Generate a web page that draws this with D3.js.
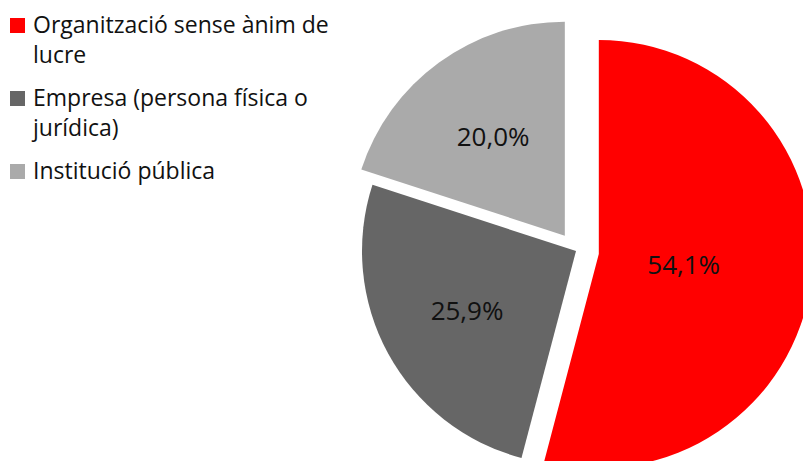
<!DOCTYPE html>
<html>
<head>
<meta charset="utf-8">
<script src="https://cdn.jsdelivr.net/npm/d3@7"></script>
<style>
  body { margin: 0; background: #fff; }
  svg { display: block; font-family: "Open Sans", sans-serif; }
</style>
</head>
<body>
<div id="vis"><svg></svg></div>
<script>
// data
var categories = ["Organització sense ànim de lucre", "Empresa (persona física o jurídica)", "Institució pública"];
var values = [54.1, 25.9, 20.0];
var valueLabels = ["54,1%", "25,9%", "20,0%"];

// layout (not data)
var colors = ["#ff0000", "#666666", "#aaaaaa"];
var explode = [23, 0, 19];          // px each slice is pulled out
var labelPos = [0.40, 0.58, 0.57];  // label distance as share of radius

var width = 803, height = 461;
var cx = 576, cy = 251, radius = 214;

var svg = d3.select("#vis").select("svg")
    .attr("width", width)
    .attr("height", height);

var pie = d3.pie().sort(null).value(function(d) { return d; });
var arcs = pie(values);

var arc = d3.arc().innerRadius(0).outerRadius(radius);

function dirOf(d) {
  var a = (d.startAngle + d.endAngle) / 2;
  return [Math.sin(a), -Math.cos(a)];
}

var slices = svg.append("g")
    .attr("transform", "translate(" + cx + "," + cy + ")")
  .selectAll("g.slice")
  .data(arcs)
  .enter()
  .append("g")
    .attr("class", "slice")
    .attr("transform", function(d, i) {
      var v = dirOf(d);
      return "translate(" + (v[0] * explode[i]) + "," + (v[1] * explode[i]) + ")";
    });

slices.append("path")
    .attr("d", arc)
    .attr("fill", function(d, i) { return colors[i]; });

slices.append("text")
    .attr("x", function(d, i) { return dirOf(d)[0] * radius * labelPos[i]; })
    .attr("y", function(d, i) { return dirOf(d)[1] * radius * labelPos[i]; })
    .attr("dy", "0.36em")
    .attr("text-anchor", "middle")
    .style("font-size", "26px")
    .style("fill", "#111")
    .text(function(d, i) { return valueLabels[i]; });

// legend
var legend = svg.append("g");
var lx = 33, maxW = 320, lineH = 30, gap = 13;
var y0 = 33;

categories.forEach(function(name, i) {
  var t = legend.append("text")
      .attr("x", lx)
      .attr("y", y0)
      .style("font-size", "23px")
      .style("fill", "#111");

  // simple word wrap
  var words = name.split(" ");
  var line = [];
  var tspan = t.append("tspan").attr("x", lx).attr("y", y0);
  var nLines = 1;
  words.forEach(function(w) {
    line.push(w);
    tspan.text(line.join(" "));
    if (tspan.node().getComputedTextLength() > maxW && line.length > 1) {
      line.pop();
      tspan.text(line.join(" "));
      line = [w];
      tspan = t.append("tspan").attr("x", lx).attr("y", y0 + nLines * lineH).text(w);
      nLines++;
    }
  });

  legend.append("rect")
      .attr("x", 10)
      .attr("y", y0 - 15)
      .attr("width", 15)
      .attr("height", 15)
      .attr("fill", colors[i]);

  y0 += nLines * lineH + gap;
});
</script>
</body>
</html>
